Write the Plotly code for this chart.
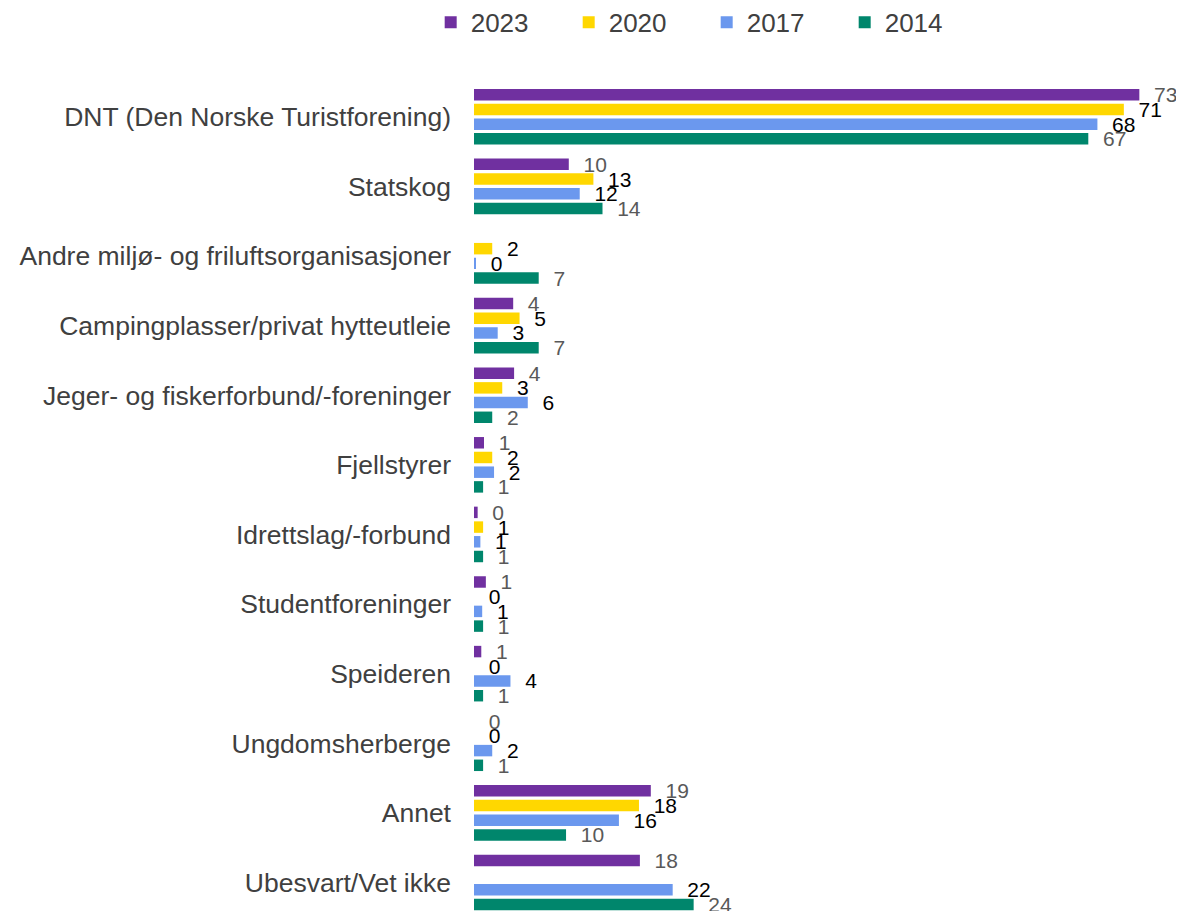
import plotly.graph_objects as go

categories = [
    "DNT (Den Norske Turistforening)",
    "Statskog",
    "Andre miljø- og friluftsorganisasjoner",
    "Campingplasser/privat hytteutleie",
    "Jeger- og fiskerforbund/-foreninger",
    "Fjellstyrer",
    "Idrettslag/-forbund",
    "Studentforeninger",
    "Speideren",
    "Ungdomsherberge",
    "Annet",
    "Ubesvart/Vet ikke",
]

v2023 = [73.0, 10.4, None, 4.3, 4.4, 1.1, 0.4, 1.3, 0.8, 0, 19.4, 18.2]
v2020 = [71.3, 13.1, 2.0, 5.0, 3.1, 2.0, 1.0, 0, 0, 0, 18.1, None]
v2017 = [68.4, 11.6, 0.2, 2.6, 5.9, 2.2, 0.7, 0.9, 4.0, 2.0, 15.9, 21.8]
v2014 = [67.4, 14.1, 7.1, 7.1, 2.0, 1.0, 1.0, 1.0, 1.0, 1.0, 10.1, 24.1]

series = [
    ("2023", v2023, "#7030A0", "#595959"),
    ("2020", v2020, "#FFD700", "#000000"),
    ("2017", v2017, "#6B98EE", "#000000"),
    ("2014", v2014, "#00866C", "#595959"),
]

FONT = "Liberation Sans, Arial, sans-serif"

fig = go.Figure()
for name, vals, color, tcolor in series:
    labels = ["" if v is None else "\u00a0\u00a0" + str(int(round(v))) for v in vals]
    fig.add_trace(go.Bar(
        name=name,
        y=categories,
        x=vals,
        orientation="h",
        marker=dict(color=color, line=dict(width=0)),
        text=labels,
        textposition="outside",
        textfont=dict(family=FONT, size=21, color=tcolor),
        constraintext="none",
        cliponaxis=False,
        hoverinfo="x+y+name",
    ))

fig.update_layout(
    width=1176,
    height=903,
    margin=dict(l=466, r=0, t=74, b=0, autoexpand=False),
    paper_bgcolor="white",
    plot_bgcolor="white",
    barmode="group",
    bargap=0.155,
    bargroupgap=0.22,
    font=dict(family=FONT, color="#404040"),
    showlegend=True,
    legend=dict(
        orientation="h",
        x=-0.061,
        xanchor="left",
        y=1.072,
        yanchor="middle",
        font=dict(family=FONT, size=26, color="#404040"),
        entrywidth=93,
        entrywidthmode="pixels",
        traceorder="normal",
    ),
    xaxis=dict(
        range=[0, 77.9],
        visible=False,
        showgrid=False,
        zeroline=False,
    ),
    yaxis=dict(
        categoryorder="array",
        categoryarray=categories,
        range=[11.41, -0.5],
        showgrid=False,
        zeroline=False,
        showline=False,
        ticks="",
        automargin=False,
        ticklabelstandoff=22,
        tickfont=dict(family=FONT, size=26.5, color="#404040"),
    ),
)

fig.write_html("out.html")
